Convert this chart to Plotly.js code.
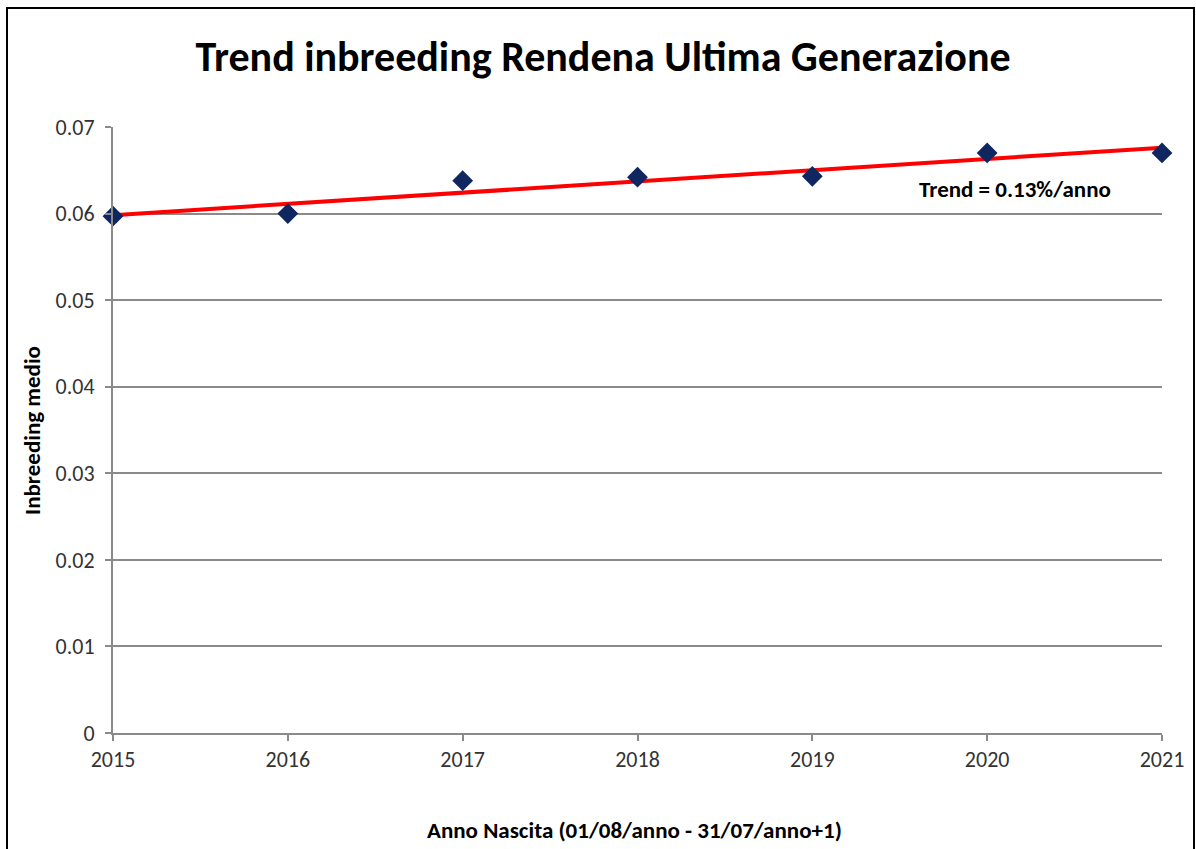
<!DOCTYPE html>
<html>
<head>
<meta charset="utf-8">
<script src="https://cdn.plot.ly/plotly-3.0.1.min.js"></script>
<style>html,body{margin:0;padding:0;background:#fff;}#chart{width:1196px;height:849px;}</style>
</head>
<body>
<div id="chart"></div>
<script>
// Data
const years = [2015, 2016, 2017, 2018, 2019, 2020, 2021];
const inbreeding = [0.0597, 0.0600, 0.0638, 0.0642, 0.0643, 0.0670, 0.0670];
const yTicks = [0, 0.01, 0.02, 0.03, 0.04, 0.05, 0.06, 0.07];
const yTickLabels = ['0', '0.01', '0.02', '0.03', '0.04', '0.05', '0.06', '0.07'];
const titleText = 'Trend inbreeding Rendena Ultima Generazione';
const xTitle = 'Anno Nascita (01/08/anno - 31/07/anno+1)';
const yTitle = 'Inbreeding medio';
const trendLabel = 'Trend = 0.13%/anno';

// Linear trendline (least squares) from data
const n = years.length;
const mx = years.reduce((a, b) => a + b, 0) / n;
const my = inbreeding.reduce((a, b) => a + b, 0) / n;
let sxy = 0, sxx = 0;
for (let i = 0; i < n; i++) { sxy += (years[i] - mx) * (inbreeding[i] - my); sxx += (years[i] - mx) ** 2; }
const slope = sxy / sxx;
const intercept = my - slope * mx;
const trendX = [years[0], years[n - 1]];
const trendY = trendX.map(x => intercept + slope * x);

const FONT = 'Carlito, Lato, "Open Sans", sans-serif';
const grey = '#8a8a8a';

const traces = [
  {
    x: trendX, y: trendY, mode: 'lines', type: 'scatter',
    line: {color: '#ff0000', width: 4}, hoverinfo: 'skip', cliponaxis: false
  },
  {
    x: years, y: inbreeding, mode: 'markers', type: 'scatter',
    marker: {symbol: 'diamond', size: 16, color: '#0f2660'},
    cliponaxis: false
  }
];

const P = {l: 113, r: 34, t: 127, b: 116};
const pw = 1196 - P.l - P.r, ph = 849 - P.t - P.b;
function px(x) { return (x - P.l) / pw; }
function py(y) { return (849 - P.b - y) / ph; }

const layout = {
  width: 1196, height: 849,
  margin: P,
  paper_bgcolor: '#ffffff', plot_bgcolor: '#ffffff',
  showlegend: false,
  font: {family: FONT, color: '#3a3a3a', size: 22},
  title: {
    text: '<b>' + titleText + '</b>',
    font: {family: FONT, size: 42, color: '#000000'},
    x: 603 / 1196, xref: 'container', xanchor: 'center',
    y: 1 - 56 / 849, yref: 'container', yanchor: 'middle'
  },
  xaxis: {
    range: [2015, 2021], tickvals: years, ticktext: years.map(String),
    showgrid: false, zeroline: false,
    showline: true, linecolor: grey, linewidth: 2,
    ticks: 'outside', ticklen: 6, tickcolor: grey, tickwidth: 2,
    tickfont: {family: FONT, size: 22, color: '#333333'},
    fixedrange: true
  },
  yaxis: {
    range: [0, 0.07], tickvals: yTicks, ticktext: yTickLabels,
    showgrid: true, gridcolor: grey, gridwidth: 2, zeroline: false,
    showline: true, linecolor: grey, linewidth: 2,
    ticks: 'outside', ticklen: 6, tickcolor: grey, tickwidth: 2,
    tickfont: {family: FONT, size: 22, color: '#333333'},
    ticklabelstandoff: 6,
    fixedrange: true
  },
  annotations: [
    {
      text: '<b>' + xTitle + '</b>', xref: 'paper', yref: 'paper',
      x: px(634), y: py(830), xanchor: 'center', yanchor: 'middle',
      showarrow: false, font: {family: FONT, size: 23, color: '#000000'}
    },
    {
      text: '<b>' + yTitle + '</b>', xref: 'paper', yref: 'paper',
      x: px(32), y: py(431), xanchor: 'center', yanchor: 'middle',
      textangle: -90, showarrow: false, font: {family: FONT, size: 23, color: '#000000'}
    },
    {
      text: '<b>' + trendLabel + '</b>', xref: 'paper', yref: 'paper',
      x: px(1015), y: py(189), xanchor: 'center', yanchor: 'middle',
      showarrow: false, font: {family: FONT, size: 23, color: '#000000'}
    }
  ],
  shapes: [
    {
      type: 'rect', xref: 'paper', yref: 'paper', layer: 'above',
      x0: px(7), x1: px(1194), y0: py(860), y1: py(8),
      line: {color: '#000000', width: 2}, fillcolor: 'rgba(0,0,0,0)'
    }
  ]
};

Plotly.newPlot('chart', traces, layout, {displayModeBar: false, staticPlot: true});
</script>
</body>
</html>
